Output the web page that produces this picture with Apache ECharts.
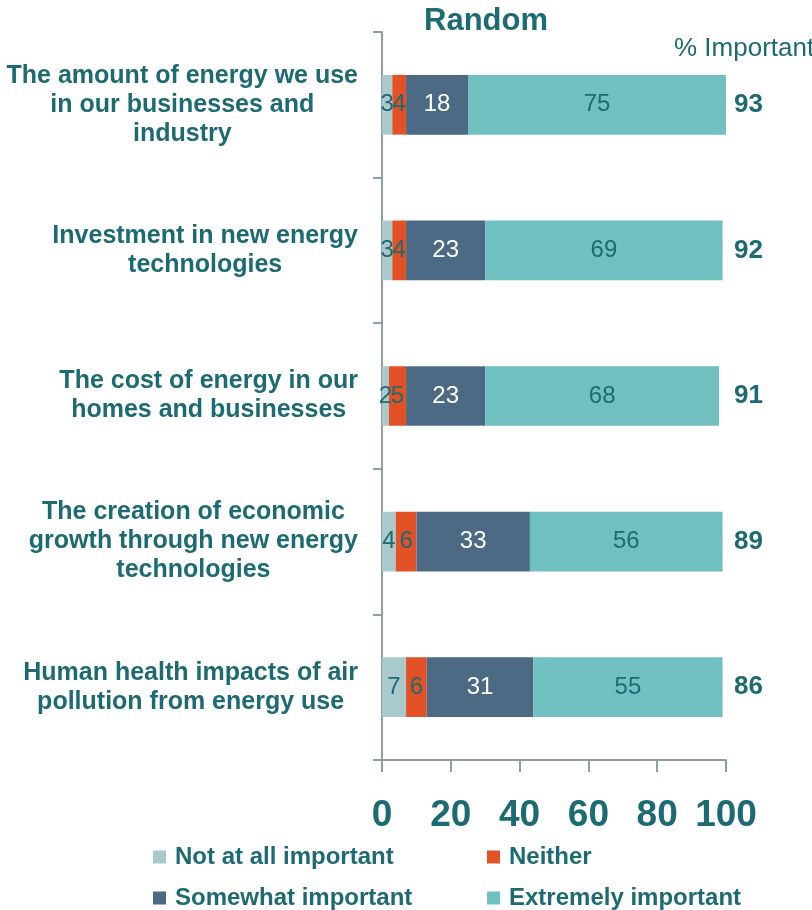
<!DOCTYPE html>
<html>
<head>
<meta charset="utf-8">
<script src="https://cdn.jsdelivr.net/npm/echarts@6/dist/echarts.min.js"></script>
<style>
html,body{margin:0;padding:0;background:#fff;}
#chart{width:812px;height:910px;}
</style>
</head>
<body>
<div id="chart"></div>
<script>
const categories = [
  'The amount of energy we use\nin our businesses and\nindustry',
  'Investment in new energy\ntechnologies',
  'The cost of energy in our\nhomes and businesses',
  'The creation of economic\ngrowth through new energy\ntechnologies',
  'Human health impacts of air\npollution from energy use'
];
const seriesNames = ['Not at all important', 'Neither', 'Somewhat important', 'Extremely important'];
const notAtAll = [3, 3, 2, 4, 7];
const neither = [4, 4, 5, 6, 6];
const somewhat = [18, 23, 23, 33, 31];
const extremely = [75, 69, 68, 56, 55];
const totals = [93, 92, 91, 89, 86];
const xTicks = [0, 20, 40, 60, 80, 100];

const FONT = "'Liberation Sans', Arial, sans-serif";
const TEAL = '#1c6a72';
const AXIS = '#8c9ea6';
const colors = ['#a9c9cd', '#e35126', '#4c6a84', '#70c0c1'];
const labelColors = [TEAL, TEAL, '#ffffff', TEAL];
const values = [notAtAll, neither, somewhat, extremely];

const chart = echarts.init(document.getElementById('chart'));

const series = seriesNames.map((name, i) => ({
  name: name,
  type: 'bar',
  stack: 'total',
  barWidth: '41%',
  data: values[i],
  itemStyle: { color: colors[i] },
  label: {
    show: true,
    position: 'inside',
    fontFamily: FONT,
    fontSize: 24,
    color: labelColors[i]
  }
}));

const legendPos = [[148, 840], [482, 840], [148, 881], [482, 881]];
const legends = seriesNames.map((name, i) => ({
  data: [name],
  left: legendPos[i][0],
  top: legendPos[i][1],
  orient: 'horizontal',
  icon: 'rect',
  itemWidth: 13,
  itemHeight: 13,
  selectedMode: false,
  textStyle: {
    fontFamily: FONT,
    fontSize: 24,
    fontWeight: 'bold',
    color: TEAL,
    padding: [0, 0, 0, 4]
  }
}));

chart.setOption({
  animation: false,
  title: [
    {
      text: 'Random',
      left: 481,
      top: 1,
      textAlign: 'center',
      textStyle: { fontFamily: FONT, fontSize: 31, fontWeight: 'bold', color: TEAL }
    },
    {
      text: '% Important',
      left: 669,
      top: 31,
      textStyle: { fontFamily: FONT, fontSize: 26, fontWeight: 'normal', color: TEAL }
    }
  ],
  legend: legends,
  grid: { left: 382, right: 86, top: 32, bottom: 150, containLabel: false },
  xAxis: {
    type: 'value',
    min: 0,
    max: 100,
    interval: 20,
    splitLine: { show: false },
    axisLine: { show: true, lineStyle: { color: AXIS, width: 2 } },
    axisTick: { show: true, length: 12, lineStyle: { color: AXIS, width: 2 } },
    axisLabel: {
      margin: 37,
      fontFamily: FONT,
      fontSize: 37,
      fontWeight: 'bold',
      color: TEAL,
      formatter: v => xTicks.includes(v) ? String(v) : ''
    }
  },
  yAxis: [
    {
      type: 'category',
      inverse: true,
      data: categories,
      axisLine: { show: true, lineStyle: { color: AXIS, width: 2 } },
      axisTick: { show: true, length: 9, lineStyle: { color: AXIS, width: 2 } },
      axisLabel: {
        margin: 24,
        align: 'right',
        fontFamily: FONT,
        fontSize: 25,
        fontWeight: 'bold',
        color: TEAL,
        lineHeight: 29,
        formatter: v => v.split('\n').map(l => '{c|' + l + '}').join('\n'),
        rich: {
          c: { align: 'center', fontFamily: FONT, fontSize: 25, fontWeight: 'bold', color: TEAL, lineHeight: 29 }
        }
      }
    },
    {
      type: 'category',
      inverse: true,
      position: 'right',
      data: totals.map(String),
      axisLine: { show: false },
      axisTick: { show: false },
      axisLabel: {
        margin: 8,
        fontFamily: FONT,
        fontSize: 26,
        fontWeight: 'bold',
        color: TEAL
      }
    }
  ],
  series: series
});
</script>
</body>
</html>
